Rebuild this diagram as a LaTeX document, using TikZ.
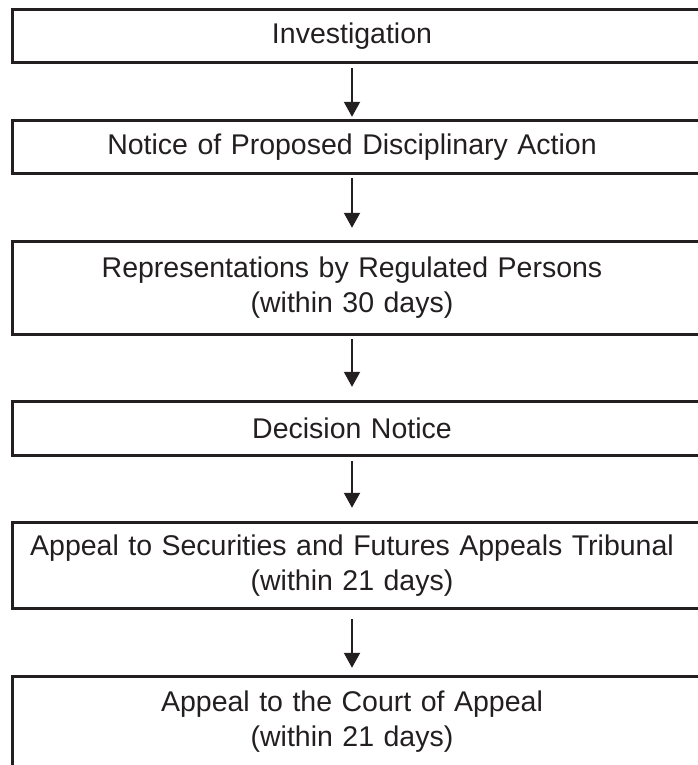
\documentclass[tikz,border=0pt]{standalone}
\usepackage{fontspec}
\setmainfont{Liberation Sans}
\usetikzlibrary{arrows.meta}

\definecolor{inkline}{RGB}{35,31,32}

\tikzset{
	stage/.style={inner sep=0pt, text width=678pt, align=center, font=\fontsize{28.5}{35}\selectfont, text=inkline},
	frame/.style={draw=inkline, line width=3pt},
	flow/.style={draw=inkline, line width=2pt, -{Triangle[width=16pt,length=15pt]}}
}

\begin{document}
\begin{tikzpicture}[x=1pt, y=-1pt]
			\useasboundingbox (0,0) rectangle (698,765);
			\clip (0,0) rectangle (698,765);
			\node[stage, minimum height=52pt] (inv) at (352,36) {Investigation};
			\node[stage, minimum height=52pt] (notice) at (352,147) {Notice of Proposed Disciplinary Action};
			\node[stage, minimum height=92pt] (repr) at (352,288) {Representations by Regulated Persons\\(within 30 days)};
			\node[stage, minimum height=53pt] (decision) at (352,428.5) {Decision Notice};
			\node[stage, minimum height=85pt] (sfat) at (352,565.5) {Appeal to Securities and Futures Appeals Tribunal\\(within 21 days)};
			\node[stage, minimum height=90pt] (court) at (352,722) {Appeal to the Court of Appeal\\(within 21 days)};
			\foreach \n in {inv, notice, repr, decision, sfat, court}
				\draw[frame] (\n.north west) rectangle ([xshift=60pt]\n.south east);
			\draw[flow, shorten <=6pt, shorten >=4pt] (inv) -- (notice);
			\draw[flow, shorten <=5pt, shorten >=14pt] (notice) -- (repr);
			\draw[flow, shorten <=5pt, shorten >=15pt] (repr) -- (decision);
			\draw[flow, shorten <=6pt, shorten >=15pt] (decision) -- (sfat);
			\draw[flow, shorten <=11pt, shorten >=9pt] (sfat) -- (court);
		\end{tikzpicture}
\end{document}
